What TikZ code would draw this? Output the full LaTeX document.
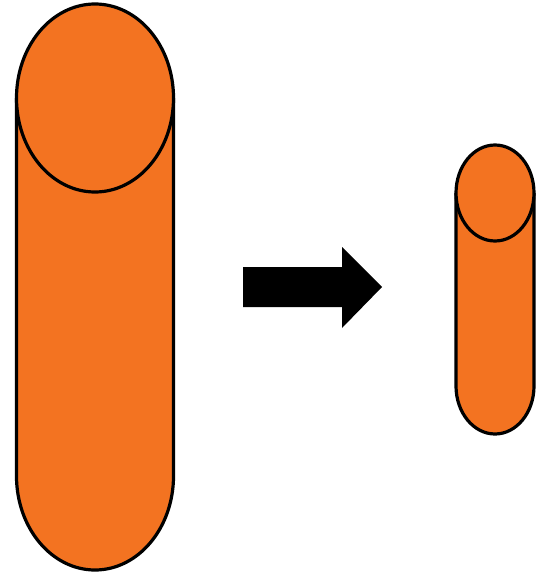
\documentclass[tikz,border=0pt]{standalone}
\definecolor{cylorange}{HTML}{F37321}
\begin{document}
\begin{tikzpicture}[x=1pt,y=-1pt,
  cylfill/.style={fill=cylorange},
  cylline/.style={draw=black,line width=3.2pt},
  blockarrow/.style={fill=black}]
\useasboundingbox (0,0) rectangle (539,573);
% large cylinder
\coordinate (bigtop) at (95,98);
\path[cylfill] (16.5,98) -- (16.5,476) arc[start angle=180,end angle=0,x radius=78.5,y radius=94] -- (173.5,98) -- cycle;
\draw[cylline] (16.5,98) -- (16.5,476) arc[start angle=180,end angle=0,x radius=78.5,y radius=94] -- (173.5,98);
\draw[cylline,cylfill] (bigtop) ellipse[x radius=78.5,y radius=94];
% small cylinder
\coordinate (smalltop) at (495,193);
\path[cylfill] (456,193) -- (456,386) arc[start angle=180,end angle=0,x radius=39,y radius=48] -- (534,193) -- cycle;
\draw[cylline] (456,193) -- (456,386) arc[start angle=180,end angle=0,x radius=39,y radius=48] -- (534,193);
\draw[cylline,cylfill] (smalltop) ellipse[x radius=39,y radius=48];
% arrow
\path[blockarrow] (243,267) -- (342,267) -- (342,247) -- (382,287) -- (342,328) -- (342,307) -- (243,307) -- cycle;
\end{tikzpicture}
\end{document}
